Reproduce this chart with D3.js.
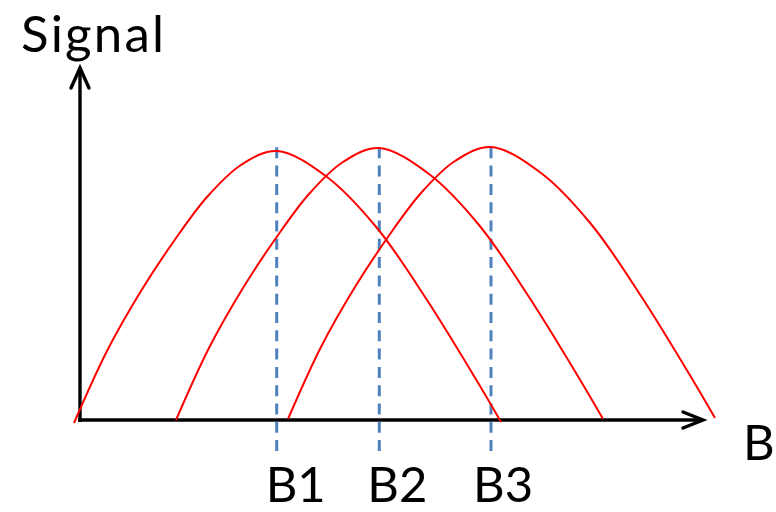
<!DOCTYPE html>
<html><head><meta charset="utf-8">
<script src="https://cdn.jsdelivr.net/npm/d3@7"></script>
<style>body{margin:0;background:#fff}svg{display:block}</style></head>
<body>
<svg id="c" width="776" height="512"></svg>
<script>
// Data (B along x, signal along y; arbitrary units)
const curve1B = [-6, 27, 61, 94, 127, 161, 197, 247, 297, 347, 397, 421];
const curve1S = [-3, 69, 129, 179, 223, 255, 269, 243, 192, 120, 39, -2];
const curve2B = [96, 129, 163, 196, 229, 263, 299, 349, 399, 449, 499, 523];
const curve2S = [0, 72, 132, 182, 226, 258, 272, 246, 195, 123, 42, 1];
const curve3B = [208, 241, 275, 308, 341, 375, 411, 461, 511, 561, 611, 635];
const curve3S = [1, 73, 133, 183, 227, 259, 273, 247, 196, 124, 43, 2];
const peakB = [196.7, 299.3, 411];
const peakLabels = ["B1", "B2", "B3"];
const yTitle = "Signal";
const xTitle = "B";

const svg = d3.select("#c");
const x = d3.scaleLinear().domain([0, 623]).range([80, 703]);
const y = d3.scaleLinear().domain([0, 352]).range([420, 68]);
const FONT = "Lato, 'Open Sans', sans-serif";
const FS = 49;

// axes
svg.append("line").attr("x1", x(-2)).attr("x2", x(622)).attr("y1", y(0)).attr("y2", y(0))
  .attr("stroke", "#000").attr("stroke-width", 3.4);
svg.append("line").attr("x1", x(0)).attr("x2", x(0)).attr("y1", y(-2)).attr("y2", y(351))
  .attr("stroke", "#000").attr("stroke-width", 3.4);
// arrow heads
svg.append("path")
  .attr("d", `M${x(603)},${y(8)} L${x(623)},${y(0)} L${x(603)},${y(-8)}`)
  .attr("fill", "none").attr("stroke", "#000").attr("stroke-width", 3.4)
  .attr("stroke-linecap", "round").attr("stroke-linejoin", "miter");
svg.append("path")
  .attr("d", `M${x(-9)},${y(332)} L${x(0)},${y(352)} L${x(9)},${y(332)}`)
  .attr("fill", "none").attr("stroke", "#000").attr("stroke-width", 3.4)
  .attr("stroke-linecap", "round").attr("stroke-linejoin", "miter");

// dashed peak lines
svg.selectAll("line.peak").data(peakB).enter().append("line")
  .attr("class", "peak")
  .attr("x1", d => x(d)).attr("x2", d => x(d))
  .attr("y1", y(272.7)).attr("y2", y(-32))
  .attr("stroke", "#4f81bd").attr("stroke-width", 3)
  .attr("stroke-dasharray", "11,7.3");

// curves
const curves = [[curve1B, curve1S], [curve2B, curve2S], [curve3B, curve3S]];
const line = d3.line().x(d => x(d[0])).y(d => y(d[1])).curve(d3.curveCatmullRom.alpha(0.5));
svg.selectAll("path.sig").data(curves).enter().append("path")
  .attr("class", "sig")
  .attr("d", c => line(c[0].map((b, i) => [b, c[1][i]])))
  .attr("fill", "none").attr("stroke", "#ff0000").attr("stroke-width", 2);

// labels
const labelDx = [-11, -12, -18];
svg.selectAll("text.pl").data(peakLabels).enter().append("text")
  .attr("class", "pl")
  .attr("x", (d, i) => x(peakB[i]) + labelDx[i]).attr("y", 502)
  .attr("font-family", FONT).attr("font-size", FS).attr("fill", "#000")
  .text(d => d);
svg.append("text").attr("x", 21).attr("y", 52)
  .attr("font-family", FONT).attr("font-size", 51).attr("letter-spacing", 2.2)
  .attr("fill", "#000").text(yTitle);
svg.append("text").attr("x", 743).attr("y", 460)
  .attr("font-family", FONT).attr("font-size", FS).attr("fill", "#000").text(xTitle);
</script>
</body></html>
